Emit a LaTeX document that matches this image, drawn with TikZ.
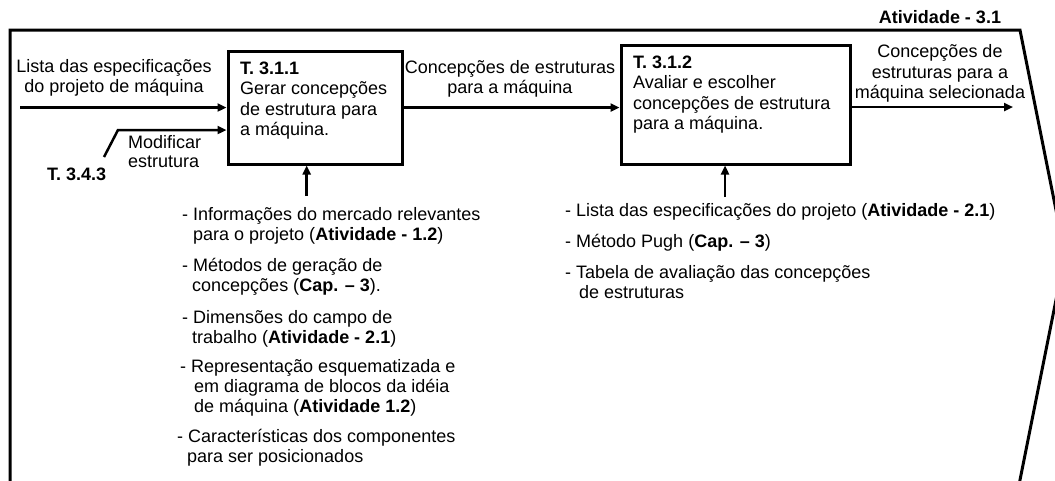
\documentclass[tikz,border=0pt]{standalone}
\usepackage{fontspec}
\setmainfont{Liberation Sans}
\usetikzlibrary{arrows.meta}
\newcommand\fs{\fontsize{18}{20}\selectfont}
\begin{document}
\begin{tikzpicture}[x=1pt,y=-1pt,
  frame/.style={line width=3pt, line join=miter},
  box/.style={draw, line width=3pt, inner sep=0pt},
  flow/.style={line width=2.5pt, -{Triangle[length=9pt,width=8pt]}},
  txt/.style={inner sep=0pt, font=\fs, align=left},
  ctxt/.style={inner sep=0pt, font=\fs, align=center},
  boxtxt/.style={inner sep=0pt, font=\fontsize{18}{20.3}\selectfont, align=left}]
\useasboundingbox (0,0) rectangle (1055,480);
\clip (0,0) rectangle (1055,480);
% outer frame
\draw[frame] (10,490) -- (10,30) -- (1020,30) -- (1065,255) -- (1018,490);
\node[ctxt, anchor=base, font=\fs\bfseries] (atv) at (940,23.5) {Atividade - 3.1};
% boxes
\node[box, minimum width=174pt, minimum height=113pt] (b1) at (315,107.5) {};
\node[box, minimum width=229pt, minimum height=119pt] (b2) at (735.5,104.5) {};
\node[boxtxt, anchor=north west] (b1t) at (240,60) {\strut\textbf{T. 3.1.1}\\Gerar concepções\\de estrutura para\\a máquina.};
\node[boxtxt, anchor=north west] (b2t) at (633,54) {\strut\textbf{T. 3.1.2}\\Avaliar e escolher\\concepções de estrutura\\para a máquina.};
% inputs
\node[ctxt, anchor=north] (l1) at (114,58) {\strut Lista das especificações\\do projeto de máquina};
\coordinate (s1) at (20,107.5);
\draw[flow] (s1) -- (b1.west);
\node[txt, anchor=north west, font=\fontsize{18}{19}\selectfont] (l2) at (128,135) {\strut Modificar\\estrutura};
\node[txt, anchor=base west, font=\fs\bfseries] (t343) at (47,180) {T. 3.4.3};
\coordinate (s2) at (104,157);
\coordinate (k2) at (118,130);
\draw[flow] (s2) -- (k2) -- (k2 -| b1.west);
% between boxes
\node[ctxt, anchor=north] (l3) at (510,59) {\strut Concepções de estruturas\\para a máquina};
\draw[flow] (b1.east) -- (b1.east -| b2.west);
% output
\node[ctxt, anchor=north, font=\fontsize{18}{20.5}\selectfont] (l4) at (940,43) {\strut Concepções de\\estruturas para a\\máquina selecionada};
\coordinate (e3) at (1013,107);
\draw[flow] (e3 -| b2.east) -- (e3);
% controls
\coordinate (u1) at (306.7,196);
\draw[flow] (u1) -- (u1 |- b1.south);
\coordinate (u2) at (725,197);
\draw[flow] (u2) -- (u2 |- b2.south);
% left list
\node[txt, anchor=north west] (i1) at (182,206) {\strut - Informações do mercado relevantes\\\hspace*{11pt}para o projeto (\textbf{Atividade - 1.2})};
\node[txt, anchor=north west] (i2) at (182,257) {\strut - Métodos de geração de\\\hspace*{10pt}concepções (\textbf{Cap. – 3}).};
\node[txt, anchor=north west] (i3) at (182,309) {\strut - Dimensões do campo de\\\hspace*{10pt}trabalho (\textbf{Atividade - 2.1})};
\node[txt, anchor=north west] (i4) at (180,358) {\strut - Representação esquematizada e\\\hspace*{14pt}em diagrama de blocos da idéia\\\hspace*{14pt}de máquina (\textbf{Atividade 1.2})};
\node[txt, anchor=north west] (i5) at (177,428) {\strut - Características dos componentes\\\hspace*{10pt}para ser posicionados};
% right list
\node[txt, anchor=north west] (j1) at (565,202) {\strut - Lista das especificações do projeto (\textbf{Atividade - 2.1})};
\node[txt, anchor=north west] (j2) at (565,233) {\strut - Método Pugh (\textbf{Cap. – 3})};
\node[txt, anchor=north west] (j3) at (565,264) {\strut - Tabela de avaliação das concepções\\\hspace*{14pt}de estruturas};
\end{tikzpicture}
\end{document}
